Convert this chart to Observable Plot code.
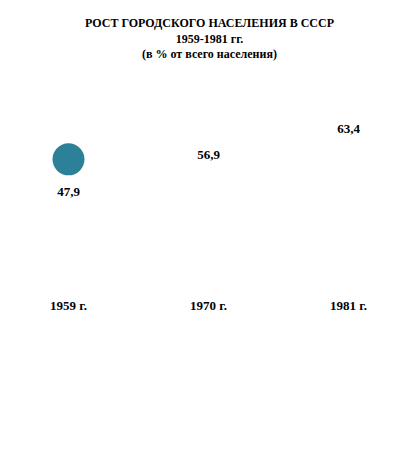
<!DOCTYPE html>
<html>
<head>
<meta charset="utf-8">
<script src="https://cdn.jsdelivr.net/npm/d3@7"></script>
<script src="https://cdn.jsdelivr.net/npm/@observablehq/plot@0.6"></script>
<style>
  html, body { margin: 0; padding: 0; background: #fff; }
  #title { font-family: "Liberation Serif", "Times New Roman", serif; font-weight: bold; font-size: 12px; line-height: 15.5px; text-align: center; padding-top: 16px; color: #000; width: 419px; height: 46.5px; }
  #chart svg { display: block; }
  #chart svg text { font-family: "Liberation Serif", "Times New Roman", serif; font-size: 13px; font-weight: bold; fill: #000; }
</style>
</head>
<body>
<div id="title">
  <div>РОСТ ГОРОДСКОГО НАСЕЛЕНИЯ В СССР</div>
  <div>1959-1981 гг.</div>
  <div>(в % от всего населения)</div>
</div>
<div id="chart"></div>
<script>
const years = ["1959 г.", "1970 г.", "1981 г."];
const values = [47.9, 56.9, 63.4];
const labels = ["47,9", "56,9", "63,4"];

const data = years.map((y, i) => ({year: y, value: values[i], label: labels[i]}));

const chart = Plot.plot({
  width: 419,
  height: 406,
  marginLeft: 68,
  marginRight: 71,
  marginTop: 20,
  marginBottom: 172,
  style: {background: "#fff"},
  x: {type: "point", domain: years, padding: 0},
  y: {domain: [40, 70], range: [160, 38], axis: null},
  marks: [
    Plot.axisX({anchor: "bottom", tickSize: 0, tickPadding: 3, label: null}),
    Plot.dot(data, {x: "year", y: "value", r: 16, dy: -32, fill: d => d.year === "1959 г." ? "#2c8199" : "#ffffff", stroke: "none"}),
    Plot.text(data, {x: "year", y: "value", text: "label", fill: "#000"})
  ]
});
document.getElementById("chart").appendChild(chart);
</script>
</body>
</html>
